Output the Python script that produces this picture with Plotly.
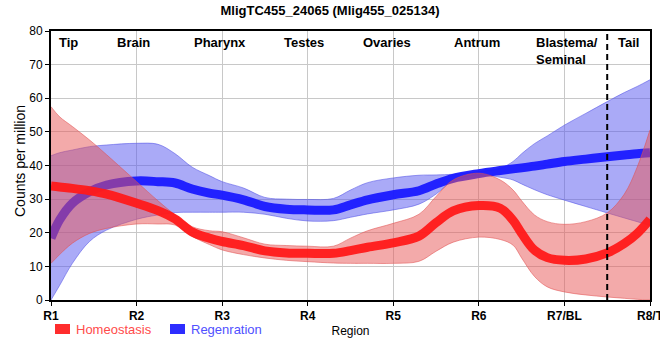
import plotly.graph_objects as go

# ---------------- data ----------------
region_x = [1.0, 1.1, 1.25, 1.45, 1.65, 2.0, 2.25, 2.45, 2.65, 2.85, 3.0, 3.25, 3.5, 3.75,
            4.0, 4.3, 4.5, 4.7, 5.0, 5.3, 5.5, 5.7, 6.0, 6.25, 6.4, 6.5, 6.65, 6.8,
            7.0, 7.25, 7.5, 7.7, 7.85, 8.0]

homeo_mean = [33.9, 33.6, 33.2, 32.5, 31.5, 28.8, 26.6, 24.1, 20.2, 18.4, 17.4, 16.2, 14.6, 14.0,
              13.9, 13.9, 14.7, 15.7, 17.0, 19.0, 23.0, 26.5, 28.1, 27.3, 23.7, 19.8, 14.8, 12.6,
              11.8, 12.2, 14.0, 16.8, 19.8, 24.0]
homeo_upper = [57.5, 54.5, 51.6, 47.6, 43.2, 35.2, 29.5, 25.3, 21.8, 20.6, 20.3, 18.5, 16.6, 16.2,
               16.0, 16.0, 18.4, 20.6, 22.8, 25.5, 30.8, 35.7, 37.7, 35.7, 32.7, 29.5, 25.3, 23.3,
               22.5, 23.3, 25.9, 31.5, 39.5, 50.6]
homeo_lower = [10.9, 13.5, 16.9, 19.8, 21.3, 22.6, 22.6, 22.3, 18.9, 16.5, 14.9, 13.5, 12.5, 11.8,
               11.4, 11.0, 10.9, 10.9, 10.9, 11.5, 14.5, 17.2, 18.7, 18.0, 16.3, 12.5, 7.0, 3.9,
               2.4, 1.5, 0.9, 0.5, 0.2, 0.0]

regen_mean = [18.4, 23.8, 28.8, 32.2, 34.2, 35.4, 35.2, 34.8, 33.0, 31.8, 31.2, 29.8, 27.8, 27.0,
              26.8, 26.8, 28.3, 29.8, 31.3, 32.5, 34.5, 36.2, 37.6, 38.5, 39.0, 39.3, 39.8, 40.4,
              41.2, 41.9, 42.6, 43.1, 43.5, 43.8]
regen_upper = [42.9, 43.8, 44.6, 45.6, 46.1, 46.6, 46.3, 43.5, 39.5, 37.0, 35.2, 33.3, 30.5, 30.0,
               29.9, 30.2, 32.7, 34.9, 36.3, 37.1, 37.2, 37.4, 38.2, 39.2, 41.2, 43.5, 46.5, 48.8,
               52.0, 55.5, 59.0, 61.7, 63.5, 65.5]
regen_lower = [0.0, 4.3, 10.9, 17.4, 20.8, 24.0, 25.3, 26.0, 26.1, 26.1, 26.1, 26.1, 25.5, 24.3,
               23.5, 23.6, 24.6, 25.6, 26.8, 28.5, 31.5, 35.5, 37.2, 36.5, 35.7, 34.5, 32.8, 31.3,
               29.7, 27.8, 25.9, 24.4, 23.3, 22.2]

tick_vals = [1, 2, 3, 4, 5, 6, 7, 8]
tick_text = ["R1", "R2", "R3", "R4", "R5", "R6", "R7/BL", "R8/T"]

tissue_labels = ["Tip", "Brain", "Pharynx", "Testes", "Ovaries", "Antrum", "Blastema/<br>Seminal", "Tail"]
tissue_pos = [1.21, 1.96, 2.98, 3.96, 4.93, 5.98, 6.65, 7.75]
divider_x = 7.5

title_text = "MligTC455_24065 (Mlig455_025134)"
y_title = "Counts per million"
x_title = "Region"
series_names = ["Homeostasis", "Regenration"]

# ---------------- figure ----------------
FONT = "Liberation Sans, Arial, sans-serif"
SMOOTH = 1.0
fig = go.Figure()

def band(lower, upper, fillcol, edgecol):
    fig.add_trace(go.Scatter(x=region_x, y=lower, mode="lines",
                             line=dict(shape="spline", smoothing=SMOOTH, width=1, color=edgecol),
                             showlegend=False, hoverinfo="skip"))
    fig.add_trace(go.Scatter(x=region_x, y=upper, mode="lines", fill="tonexty",
                             fillcolor=fillcol,
                             line=dict(shape="spline", smoothing=SMOOTH, width=1, color=edgecol),
                             showlegend=False, hoverinfo="skip"))

# Regeneration (drawn first, under homeostasis)
band(regen_lower, regen_upper, "rgba(85,85,240,0.5)", "rgba(80,80,230,0.55)")
fig.add_trace(go.Scatter(x=region_x, y=regen_mean, mode="lines", name=series_names[1],
                         line=dict(shape="spline", smoothing=SMOOTH, width=9, color="rgba(25,25,255,0.95)"),
                         showlegend=False))
# Homeostasis
band(homeo_lower, homeo_upper, "rgba(232,85,85,0.5)", "rgba(225,80,80,0.55)")
fig.add_trace(go.Scatter(x=region_x, y=homeo_mean, mode="lines", name=series_names[0],
                         line=dict(shape="spline", smoothing=SMOOTH, width=9, color="rgba(255,25,25,0.95)"),
                         showlegend=False))

# divider
fig.add_shape(type="line", x0=divider_x, x1=divider_x, y0=0, y1=80, xref="x", yref="y",
              line=dict(color="black", width=2, dash="6px,4px"))

# tissue labels
for lab, pos in zip(tissue_labels, tissue_pos):
    left = "<br>" in lab
    fig.add_annotation(x=pos, y=1, xref="x", yref="paper", text="<b>" + lab + "</b>",
                       showarrow=False, yanchor="top", yshift=-2,
                       xanchor="left" if left else "center", align="left",
                       font=dict(family=FONT, size=13, color="black"))

W, H = 660, 360
ml, mr, mt, mb = 51, 10, 31, 60
pw, ph = W - ml - mr, H - mt - mb
def px2paper_x(px):
    return (px - ml) / pw
def py2paper_y(py):
    return (H - mb - py) / ph

# y axis title
fig.add_annotation(xref="paper", yref="paper", x=px2paper_x(20), y=py2paper_y(161),
                   text=y_title, textangle=-90, showarrow=False,
                   xanchor="center", yanchor="middle",
                   font=dict(family=FONT, size=14, color="black"))

# manual legend
leg = [(series_names[0], "rgb(255,45,45)", "rgb(255,75,75)", 55, 74),
       (series_names[1], "rgb(45,45,255)", "rgb(80,80,255)", 170, 189)]
for name, rc, tc, rx, tx in leg:
    fig.add_shape(type="rect", xref="paper", yref="paper",
                  x0=px2paper_x(rx), x1=px2paper_x(rx + 15),
                  y0=py2paper_y(334), y1=py2paper_y(324),
                  fillcolor=rc, line=dict(width=0))
    fig.add_annotation(xref="paper", yref="paper", x=px2paper_x(tx), y=py2paper_y(329),
                       text=name, showarrow=False, xanchor="left", yanchor="middle",
                       font=dict(family=FONT, size=13, color=tc))

axis_common = dict(showline=True, linecolor="black", linewidth=2, mirror=True,
                   ticks="outside", ticklen=4, tickcolor="black", automargin=False,
                   gridcolor="rgb(200,200,200)", gridwidth=1, zeroline=False)

fig.update_layout(
    width=W, height=H,
    margin=dict(l=ml, r=mr, t=mt, b=mb, autoexpand=False),
    paper_bgcolor="white", plot_bgcolor="white",
    font=dict(family=FONT, size=12, color="black"),
    title=dict(text="<b>" + title_text + "</b>", x=0.5, xanchor="center", automargin=False,
               y=1 - 10 / H, yanchor="middle", font=dict(family=FONT, size=13, color="black")),
    xaxis=dict(range=[1, 8], tickvals=tick_vals, ticktext=["<b>" + t + "</b>" for t in tick_text],
               tickfont=dict(family=FONT, size=12, color="black"), ticklabeloverflow="allow",
               title=dict(text=x_title, standoff=4, font=dict(family=FONT, size=12)),
               **axis_common),
    yaxis=dict(range=[0, 80], dtick=10, tickfont=dict(family=FONT, size=12, color="black"),
               **axis_common),
    showlegend=False,
)

fig.write_html("out.html", config={"displayModeBar": False},
               post_script="document.body.style.margin='0';document.body.style.overflow='hidden';")
